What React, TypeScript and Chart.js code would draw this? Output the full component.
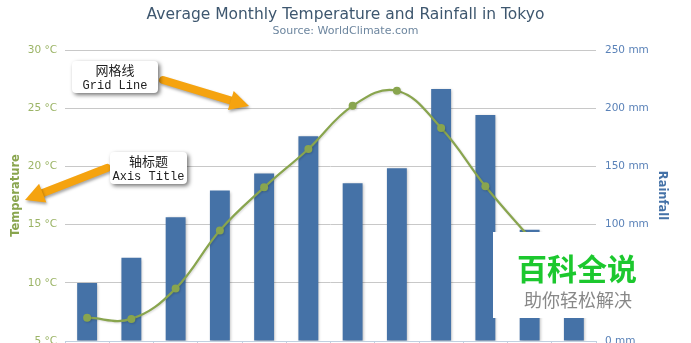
import React, { useEffect, useRef } from "react";
import { Chart, registerables } from "chart.js";

Chart.register(...registerables);

const months = ["Jan", "Feb", "Mar", "Apr", "May", "Jun", "Jul", "Aug", "Sep", "Oct", "Nov", "Dec"];
const rainfall = [49.9, 71.5, 106.4, 129.2, 144.0, 176.0, 135.6, 148.5, 216.4, 194.1, 95.6, 54.4];
const temperature = [7.0, 6.9, 9.5, 14.5, 18.2, 21.5, 25.2, 26.5, 23.3, 18.3, 13.9, 9.6];

const titleText = "Average Monthly Temperature and Rainfall in Tokyo";
const subtitleText = "Source: WorldClimate.com";
const tempAxisTitle = "Temperature";
const rainAxisTitle = "Rainfall";
const tempUnit = " °C";
const rainUnit = " mm";
const gridNote = ["网格线", "Grid Line"];
const axisNote = ["轴标题", "Axis Title"];
const watermark = ["百科全说", "助你轻松解决"];

const FONT = "'DejaVu Sans', Verdana, sans-serif";

function drawArrow(ctx: CanvasRenderingContext2D, x1: number, y1: number, x2: number, y2: number) {
  const ang = Math.atan2(y2 - y1, x2 - x1);
  const headLen = 19;
  const headHalf = 10;
  const bx = x2 - Math.cos(ang) * headLen;
  const by = y2 - Math.sin(ang) * headLen;
  ctx.save();
  ctx.shadowColor = "rgba(0,0,0,0.35)";
  ctx.shadowBlur = 3;
  ctx.shadowOffsetX = 1;
  ctx.shadowOffsetY = 2;
  ctx.strokeStyle = "#F5A30F";
  ctx.fillStyle = "#F5A30F";
  ctx.lineWidth = 8;
  ctx.lineCap = "round";
  ctx.beginPath();
  ctx.moveTo(x1, y1);
  ctx.lineTo(bx + Math.cos(ang) * 2, by + Math.sin(ang) * 2);
  ctx.stroke();
  ctx.beginPath();
  ctx.moveTo(x2, y2);
  ctx.lineTo(bx - Math.sin(ang) * headHalf, by + Math.cos(ang) * headHalf);
  ctx.lineTo(bx + Math.sin(ang) * headHalf, by - Math.cos(ang) * headHalf);
  ctx.closePath();
  ctx.fill();
  ctx.restore();
}

function drawNote(ctx: CanvasRenderingContext2D, x: number, y: number, w: number, h: number, lines: string[]) {
  ctx.save();
  ctx.shadowColor = "rgba(0,0,0,0.55)";
  ctx.shadowBlur = 4;
  ctx.shadowOffsetX = 2;
  ctx.shadowOffsetY = 2;
  ctx.fillStyle = "#FFFFFF";
  ctx.beginPath();
  (ctx as any).roundRect(x, y, w, h, 4);
  ctx.fill();
  ctx.restore();
  ctx.save();
  ctx.fillStyle = "#222222";
  ctx.textAlign = "center";
  ctx.textBaseline = "middle";
  ctx.font = "13px 'Noto Sans CJK SC', sans-serif";
  ctx.fillText(lines[0], x + w / 2, y + 9);
  ctx.font = "12px 'Liberation Mono', monospace";
  ctx.fillText(lines[1], x + w / 2, y + 25);
  ctx.restore();
}

const decorPlugin = {
  id: "decor",
  beforeDatasetDraw(chart: any, args: any) {
    const ctx = chart.ctx;
    ctx.save();
    if (chart.data.datasets[args.index].type === "bar") {
      ctx.shadowColor = "rgba(0,0,0,0.28)";
      ctx.shadowBlur = 3;
      ctx.shadowOffsetX = 1;
      ctx.shadowOffsetY = 1;
    } else {
      ctx.shadowColor = "rgba(0,0,0,0.15)";
      ctx.shadowBlur = 2;
      ctx.shadowOffsetX = 1;
      ctx.shadowOffsetY = 1;
    }
  },
  afterDatasetDraw(chart: any) {
    chart.ctx.restore();
  },
  afterDraw(chart: any) {
    const ctx: CanvasRenderingContext2D = chart.ctx;
    const cx = chart.width / 2;
    ctx.save();
    ctx.textAlign = "center";
    ctx.textBaseline = "middle";
    ctx.fillStyle = "#3E576F";
    ctx.font = "15.5px " + FONT;
    ctx.fillText(titleText, cx, 15);
    ctx.fillStyle = "#6D869F";
    ctx.font = "11px " + FONT;
    ctx.fillText(subtitleText, cx, 31);
    ctx.restore();

    drawArrow(ctx, 163, 80, 249, 106);
    drawNote(ctx, 72, 61, 86, 32, gridNote);
    drawArrow(ctx, 107, 168, 25, 200);
    drawNote(ctx, 110, 152, 77, 32, axisNote);

    ctx.save();
    ctx.fillStyle = "#FFFFFF";
    ctx.fillRect(493, 232, 170, 86);
    ctx.textAlign = "center";
    ctx.textBaseline = "middle";
    ctx.fillStyle = "#1CC82E";
    ctx.font = "bold 30px 'Noto Sans CJK SC', sans-serif";
    ctx.fillText(watermark[0], 577, 269);
    ctx.fillStyle = "#888888";
    ctx.font = "18px 'Noto Sans CJK SC', sans-serif";
    ctx.fillText(watermark[1], 578, 300);
    ctx.restore();
  },
};

export default function App() {
  const ref = useRef<HTMLCanvasElement | null>(null);
  useEffect(() => {
    if (!ref.current) return;
    const chart = new Chart(ref.current, {
      data: {
        labels: months,
        datasets: [
          {
            type: "bar",
            label: rainAxisTitle,
            data: rainfall,
            yAxisID: "y1",
            backgroundColor: "#4572A7",
            barPercentage: 0.5,
            categoryPercentage: 0.9,
            order: 2,
          },
          {
            type: "line",
            label: tempAxisTitle,
            data: temperature,
            yAxisID: "y",
            borderColor: "#89A54E",
            backgroundColor: "#89A54E",
            borderWidth: 2.2,
            pointRadius: 4,
            pointBorderWidth: 0,
            pointBackgroundColor: "#89A54E",
            tension: 0.4,
            order: 1,
          },
        ],
      } as any,
      options: {
        responsive: false,
        animation: false,
        devicePixelRatio: 1,
        layout: { padding: { top: 50, left: 0, right: 0, bottom: 0 } },
        plugins: { legend: { display: false }, tooltip: { enabled: false }, title: { display: false } },
        scales: {
          x: {
            offset: true,
            grid: {
              display: true,
              offset: true,
              drawOnChartArea: false,
              drawTicks: true,
              tickLength: 6,
              color: "#C0D0E0",
            },
            border: { display: true, color: "#C0D0E0" },
            ticks: { color: "#666666", font: { family: FONT, size: 10.5 } },
            afterFit: (s: any) => {
              s.height = 39;
            },
          },
          y: {
            position: "left",
            min: 5,
            max: 30,
            ticks: {
              stepSize: 5,
              color: "#9BB466",
              padding: 8,
              font: { family: FONT, size: 10.5 },
              callback: (v: any) => v + tempUnit,
            },
            grid: {
              drawTicks: false,
              color: (c: any) => (c.tick && c.tick.value === 5 ? "rgba(0,0,0,0)" : "#C8C8C8"),
            },
            border: { display: false },
            title: {
              display: true,
              text: tempAxisTitle,
              color: "#89A54E",
              font: { family: FONT, size: 11.5, weight: "bold" },
              padding: { top: 9, bottom: 0 },
            },
            afterFit: (s: any) => {
              s.width = 65;
            },
          },
          y1: {
            position: "right",
            min: 0,
            max: 250,
            ticks: {
              stepSize: 50,
              color: "#5A82B8",
              padding: 9,
              font: { family: FONT, size: 10.5 },
              callback: (v: any) => v + rainUnit,
            },
            grid: { drawOnChartArea: false, drawTicks: false },
            border: { display: false },
            title: {
              display: true,
              text: rainAxisTitle,
              color: "#4572A7",
              font: { family: FONT, size: 11.5, weight: "bold" },
              padding: { top: 22, bottom: 0 },
            },
            afterFit: (s: any) => {
              s.width = 95;
            },
          },
        },
      } as any,
      plugins: [decorPlugin],
    });
    return () => chart.destroy();
  }, []);
  return (
    <div style={{ position: "fixed", left: 0, top: 0, width: 691, height: 380, background: "#fff" }}>
      <canvas ref={ref} width={691} height={380} style={{ display: "block", width: 691, height: 380 }} />
    </div>
  );
}
